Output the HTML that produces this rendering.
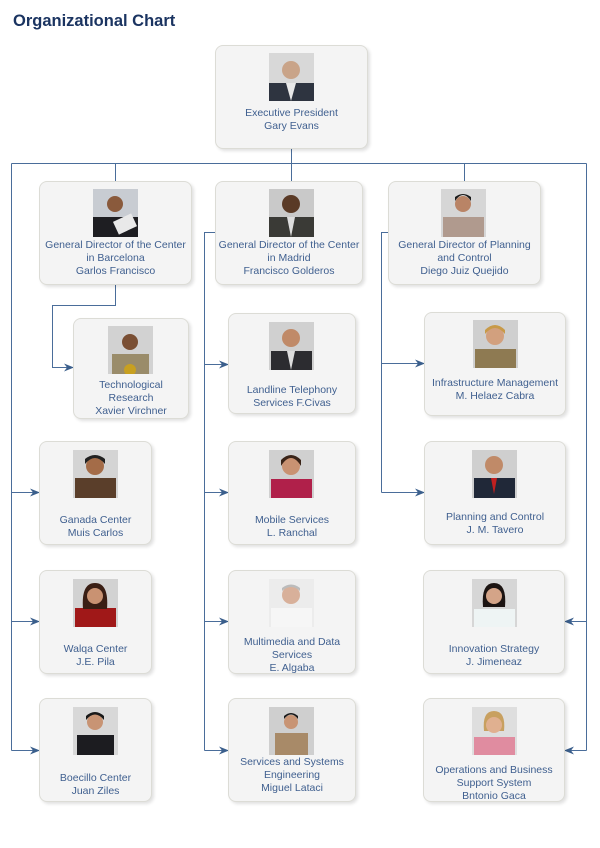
<!DOCTYPE html>
<html><head><meta charset="utf-8">
<style>
html,body{margin:0;padding:0;background:#fff;}
body{width:600px;height:848px;position:relative;overflow:hidden;font-family:"Liberation Sans",Arial,sans-serif;}
.title{position:absolute;left:13px;top:12px;font-size:16.5px;font-weight:bold;color:#1b3461;}
.box{position:absolute;background:#f4f4f4;border:1px solid #dcdcd6;border-radius:8px;box-shadow:2px 2px 3px rgba(0,0,0,0.12);box-sizing:border-box;}
.ph{position:absolute;width:45px;height:48px;}
.tx{position:absolute;left:0;right:0;text-align:center;font-size:10.5px;line-height:13px;color:#3f5f8f;white-space:nowrap;margin-top:1px;}
svg.lines{position:absolute;left:0;top:0;}
</style></head><body>
<div class="title">Organizational Chart</div>

<svg class="lines" width="600" height="848">
<defs><marker id="a" markerWidth="10" markerHeight="8" refX="9" refY="4" orient="auto" markerUnits="userSpaceOnUse"><path d="M0,0 L10,4 L0,8 L3,4z" fill="#3b5f8c"/></marker></defs>
<g stroke="#4a6d9a" stroke-width="1" fill="none">
<path d="M291.5,148 V163.5 M11.5,163.5 H586.5 M115.5,163.5 V181 M291.5,163.5 V181 M464.5,163.5 V181"/>
<path d="M11.5,163.5 V750.5"/>
<path d="M11.5,492.5 H39" marker-end="url(#a)"/>
<path d="M11.5,621.5 H39" marker-end="url(#a)"/>
<path d="M11.5,750.5 H39" marker-end="url(#a)"/>
<path d="M586.5,163.5 V750.5"/>
<path d="M586.5,621.5 H565" marker-end="url(#a)"/>
<path d="M586.5,750.5 H565" marker-end="url(#a)"/>
<path d="M115.5,284 V305.5 H52.5 V367.5 H73" marker-end="url(#a)"/>
<path d="M215,232.5 H204.5 V750.5"/>
<path d="M204.5,364.5 H228" marker-end="url(#a)"/>
<path d="M204.5,492.5 H228" marker-end="url(#a)"/>
<path d="M204.5,621.5 H228" marker-end="url(#a)"/>
<path d="M204.5,750.5 H228" marker-end="url(#a)"/>
<path d="M388,232.5 H381.5 V492.5"/>
<path d="M381.5,363.5 H424" marker-end="url(#a)"/>
<path d="M381.5,492.5 H424" marker-end="url(#a)"/>
</g>
</svg>

<div class="box" style="left:215px;top:45px;width:153px;height:104px"></div>
<svg class="ph" style="left:269px;top:53px" viewBox="0 0 45 48"><rect width="45" height="48" fill="#d8d8d8"/><rect x="0" y="30" width="45" height="18" fill="#2e3440"/><circle cx="22" cy="17" r="9" fill="#c9a489"/><path d="M17,30 L22,48 L27,30z" fill="#e8e8e8"/></svg>
<div class="tx" style="left:215px;width:153px;top:106px">Executive President<br>Gary Evans</div>

<div class="box" style="left:39px;top:181px;width:153px;height:104px"></div>
<svg class="ph" style="left:93px;top:189px" viewBox="0 0 45 48"><rect width="45" height="48" fill="#c8ccd2"/><rect x="0" y="28" width="45" height="20" fill="#1e1e22"/><circle cx="22" cy="15" r="8" fill="#8a5a3c"/><rect x="22" y="28" width="20" height="14" fill="#e9e9e9" transform="rotate(-25 32 35)"/></svg>
<div class="tx" style="left:39px;width:153px;top:238px">General Director of the Center<br>in Barcelona<br>Garlos Francisco</div>

<div class="box" style="left:215px;top:181px;width:148px;height:104px"></div>
<svg class="ph" style="left:269px;top:189px" viewBox="0 0 45 48"><rect width="45" height="48" fill="#c9c9c9"/><rect x="0" y="28" width="45" height="20" fill="#3a3a36"/><circle cx="22" cy="15" r="9" fill="#5a3a26"/><path d="M18,28 L22,48 L26,28z" fill="#ddd"/></svg>
<div class="tx" style="left:215px;width:148px;top:238px">General Director of the Center<br>in Madrid<br>Francisco Golderos</div>

<div class="box" style="left:388px;top:181px;width:153px;height:104px"></div>
<svg class="ph" style="left:441px;top:189px" viewBox="0 0 45 48"><rect width="45" height="48" fill="#d6d6d6"/><rect x="2" y="28" width="41" height="20" fill="#b09a8e"/><circle cx="22" cy="15" r="8" fill="#b98466"/><path d="M14,12 Q22,0 30,12 L30,8 Q22,2 14,8z" fill="#1a1a1a"/></svg>
<div class="tx" style="left:388px;width:153px;top:238px">General Director of Planning<br>and Control<br>Diego Juiz Quejido</div>

<div class="box" style="left:73px;top:318px;width:116px;height:101px"></div>
<svg class="ph" style="left:108px;top:326px" viewBox="0 0 45 48"><rect width="45" height="48" fill="#d2d2d2"/><rect x="4" y="28" width="37" height="20" fill="#9a8c6a"/><circle cx="22" cy="16" r="8" fill="#7a4f34"/><circle cx="22" cy="44" r="6" fill="#c8a020"/></svg>
<div class="tx" style="left:73px;width:116px;top:378px">Technological<br>Research<br>Xavier Virchner</div>

<div class="box" style="left:228px;top:313px;width:128px;height:101px"></div>
<svg class="ph" style="left:269px;top:322px" viewBox="0 0 45 48"><rect width="45" height="48" fill="#d0d0d0"/><rect x="2" y="29" width="41" height="19" fill="#2c2c30"/><circle cx="22" cy="16" r="9" fill="#c08a68"/><path d="M18,29 L22,48 L26,29z" fill="#ddd"/></svg>
<div class="tx" style="left:228px;width:128px;top:383px">Landline Telephony<br>Services F.Civas</div>

<div class="box" style="left:424px;top:312px;width:142px;height:104px"></div>
<svg class="ph" style="left:473px;top:320px" viewBox="0 0 45 48"><rect width="45" height="48" fill="#cfcfcf"/><rect x="2" y="29" width="41" height="19" fill="#8e7a52"/><circle cx="22" cy="16" r="9" fill="#d2a07e"/><path d="M12,14 Q22,2 32,14 L32,10 Q22,0 12,10z" fill="#c89a48"/></svg>
<div class="tx" style="left:424px;width:142px;top:376px">Infrastructure Management<br>M. Helaez Cabra</div>

<div class="box" style="left:39px;top:441px;width:113px;height:104px"></div>
<svg class="ph" style="left:73px;top:450px" viewBox="0 0 45 48"><rect width="45" height="48" fill="#d4d4d4"/><rect x="2" y="28" width="41" height="20" fill="#5a3e2a"/><circle cx="22" cy="16" r="9" fill="#a46c48"/><path d="M12,14 Q22,2 32,14 L32,9 Q22,1 12,9z" fill="#222"/></svg>
<div class="tx" style="left:39px;width:113px;top:513px">Ganada Center<br>Muis Carlos</div>

<div class="box" style="left:228px;top:441px;width:128px;height:104px"></div>
<svg class="ph" style="left:269px;top:450px" viewBox="0 0 45 48"><rect width="45" height="48" fill="#d0d0d0"/><rect x="2" y="29" width="41" height="19" fill="#b0204a"/><circle cx="22" cy="16" r="9" fill="#c99272"/><path d="M12,16 Q22,0 32,16 L32,10 Q22,0 12,10z" fill="#3a2418"/></svg>
<div class="tx" style="left:228px;width:128px;top:513px">Mobile Services<br>L. Ranchal</div>

<div class="box" style="left:424px;top:441px;width:142px;height:104px"></div>
<svg class="ph" style="left:472px;top:450px" viewBox="0 0 45 48"><rect width="45" height="48" fill="#cfcfcf"/><rect x="2" y="28" width="41" height="20" fill="#202838"/><circle cx="22" cy="15" r="9" fill="#c08a68"/><path d="M19,28 L22,44 L25,28z" fill="#c02020"/></svg>
<div class="tx" style="left:424px;width:142px;top:510px">Planning and Control<br>J. M. Tavero</div>

<div class="box" style="left:39px;top:570px;width:113px;height:104px"></div>
<svg class="ph" style="left:73px;top:579px" viewBox="0 0 45 48"><rect width="45" height="48" fill="#d2d2d2"/><rect x="2" y="29" width="41" height="19" fill="#a01818"/><path d="M10,30 Q8,4 22,4 Q36,4 34,30z" fill="#3a1e14"/><circle cx="22" cy="17" r="8" fill="#c99272"/></svg>
<div class="tx" style="left:39px;width:113px;top:642px">Walqa Center<br>J.E. Pila</div>

<div class="box" style="left:228px;top:570px;width:128px;height:104px"></div>
<svg class="ph" style="left:269px;top:579px" viewBox="0 0 45 48"><rect width="45" height="48" fill="#ececec"/><rect x="2" y="29" width="41" height="19" fill="#f6f6f6"/><circle cx="22" cy="16" r="9" fill="#d8b09a"/><path d="M13,12 Q22,4 31,12 L31,9 Q22,2 13,9z" fill="#bbb"/></svg>
<div class="tx" style="left:228px;width:128px;top:635px">Multimedia and Data<br>Services<br>E. Algaba</div>

<div class="box" style="left:423px;top:570px;width:142px;height:104px"></div>
<svg class="ph" style="left:472px;top:579px" viewBox="0 0 45 48"><rect width="45" height="48" fill="#d6d6d6"/><rect x="2" y="30" width="41" height="18" fill="#eef4f4"/><path d="M11,28 Q9,4 22,4 Q35,4 33,28z" fill="#1c1412"/><circle cx="22" cy="17" r="8" fill="#d4a488"/></svg>
<div class="tx" style="left:423px;width:142px;top:642px">Innovation Strategy<br>J. Jimeneaz</div>

<div class="box" style="left:39px;top:698px;width:113px;height:104px"></div>
<svg class="ph" style="left:73px;top:707px" viewBox="0 0 45 48"><rect width="45" height="48" fill="#d8d8d8"/><rect x="4" y="28" width="37" height="20" fill="#1c1c20"/><circle cx="22" cy="15" r="8" fill="#c89474"/><path d="M13,13 Q22,2 31,13 L31,9 Q22,1 13,9z" fill="#1a1a1a"/></svg>
<div class="tx" style="left:39px;width:113px;top:771px">Boecillo Center<br>Juan Ziles</div>

<div class="box" style="left:228px;top:698px;width:128px;height:104px"></div>
<svg class="ph" style="left:269px;top:707px" viewBox="0 0 45 48"><rect width="45" height="48" fill="#cfcfcf"/><rect x="6" y="26" width="33" height="22" fill="#a88a68"/><circle cx="22" cy="15" r="7" fill="#c89474"/><path d="M15,12 Q22,3 29,12 L29,9 Q22,3 15,9z" fill="#1a1a1a"/></svg>
<div class="tx" style="left:228px;width:128px;top:755px">Services and Systems<br>Engineering<br>Miguel Lataci</div>

<div class="box" style="left:423px;top:698px;width:142px;height:104px"></div>
<svg class="ph" style="left:472px;top:707px" viewBox="0 0 45 48"><rect width="45" height="48" fill="#dedede"/><rect x="2" y="30" width="41" height="18" fill="#e08ca0"/><path d="M12,24 Q10,4 22,4 Q34,4 32,24z" fill="#c8a060"/><circle cx="22" cy="18" r="8" fill="#e0b090"/></svg>
<div class="tx" style="left:423px;width:142px;top:763px">Operations and Business<br>Support System<br>Bntonio Gaca</div>

</body></html>
